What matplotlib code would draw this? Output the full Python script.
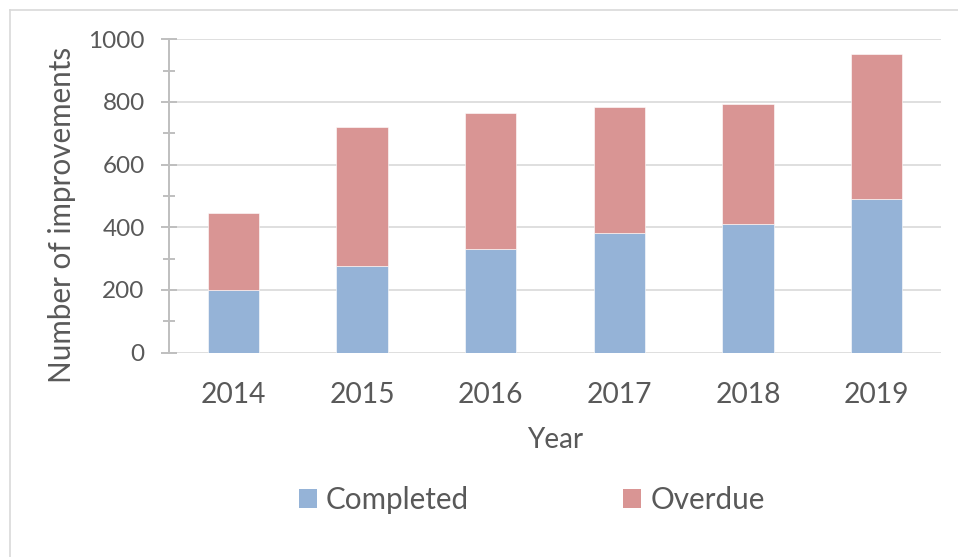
import matplotlib
matplotlib.use("Agg")
import matplotlib.pyplot as plt
from matplotlib.lines import Line2D
from matplotlib.patches import Patch
from matplotlib.ticker import MultipleLocator

# data
years = ["2014", "2015", "2016", "2017", "2018", "2019"]
completed = [200, 277, 332, 381, 410, 490]
overdue = [244, 442, 432, 404, 382, 463]

BLUE = "#95B3D7"
RED = "#D99594"
TXT = "#595959"
GRID = "#D9D9D9"
AXIS = "#BFBFBF"

plt.rcParams["font.family"] = ["Lato", "DejaVu Sans"]

fig = plt.figure(figsize=(9.58, 5.57), dpi=100)
ax = fig.add_axes([0.1764, 0.367, 0.9823 - 0.1764, 0.9294 - 0.367])

x = range(len(years))
ax.bar(x, completed, width=0.4, color=BLUE, edgecolor="white", linewidth=0.4, zorder=3)
ax.bar(x, overdue, width=0.4, bottom=completed, color=RED, edgecolor="white", linewidth=0.4, zorder=3)

ax.set_xlim(-0.5, len(years) - 0.5)
ax.set_ylim(0, 1000)
ax.set_xticks(list(x))
ax.set_xticklabels(years)
ax.yaxis.set_major_locator(MultipleLocator(200))
ax.yaxis.set_minor_locator(MultipleLocator(100))

ax.grid(axis="y", color=GRID, linewidth=1.2, zorder=0)
for s in ["top", "right", "bottom"]:
    ax.spines[s].set_visible(False)
ax.spines["left"].set_color(AXIS)
ax.spines["left"].set_linewidth(1.4)

ax.tick_params(axis="y", which="major", direction="inout", length=11, width=1.4,
               color=AXIS, labelcolor=TXT, labelsize=17.5, pad=12)
ax.tick_params(axis="y", which="minor", direction="inout", length=8, width=1.4, color=AXIS)
ax.tick_params(axis="x", length=0, labelcolor=TXT, labelsize=20.3, pad=21)

ax.set_ylabel("Number of improvements", color=TXT, fontsize=21.3)
ax.yaxis.set_label_coords(-0.121, 0.44)
ax.set_xlabel("Year", color=TXT, fontsize=20, labelpad=14)

handles = [Patch(facecolor=BLUE, label="Completed"), Patch(facecolor=RED, label="Overdue")]
fig.legend(handles=handles, loc="center", bbox_to_anchor=(0.555, 0.102), ncol=2,
           frameon=False, fontsize=21.3, labelcolor=TXT, handlelength=0.62, handleheight=0.62,
           handletextpad=0.3, columnspacing=5.2)

# light chart-area frame (top and left edges visible)
fig.add_artist(Line2D([9.5 / 958, 1.0], [1 - 10 / 557, 1 - 10 / 557], color=GRID, linewidth=1.2))
fig.add_artist(Line2D([9.5 / 958, 9.5 / 958], [0.0, 1 - 10 / 557], color=GRID, linewidth=1.2))

fig.savefig("out.png", dpi=100)
